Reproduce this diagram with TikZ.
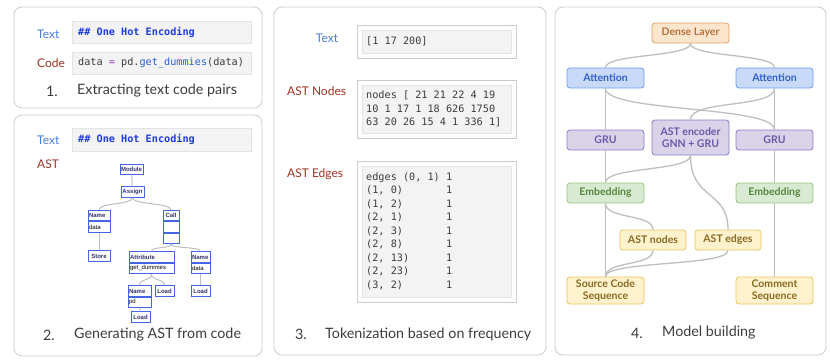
\documentclass[tikz,border=0pt]{standalone}
\usepackage{fontspec}
\setmainfont{Lato}
\setmonofont{DejaVu Sans Mono}
\newfontfamily\treefont{Liberation Sans}
\usepackage{xcolor}
\usetikzlibrary{positioning,fit}
\definecolor{pipe_frame}{RGB}{204,204,204}
\definecolor{pipe_title}{RGB}{60,60,60}
\definecolor{pipe_blue}{RGB}{74,126,222}
\definecolor{pipe_red}{RGB}{160,50,35}
\definecolor{pipe_codebg}{RGB}{243,243,243}
\definecolor{pipe_codeline}{RGB}{228,228,228}
\definecolor{pipe_hash}{RGB}{30,60,220}
\definecolor{pipe_kw}{RGB}{40,95,210}
\definecolor{pipe_op}{RGB}{150,60,180}
\definecolor{pipe_code}{RGB}{60,60,60}
\definecolor{pipe_tree}{RGB}{70,100,230}
\definecolor{pipe_treetxt}{RGB}{50,50,110}
\definecolor{pipe_wire}{RGB}{190,190,190}
\definecolor{dense_fill}{RGB}{252,229,205}
\definecolor{dense_line}{RGB}{222,160,100}
\definecolor{dense_txt}{RGB}{180,115,60}
\definecolor{att_fill}{RGB}{201,218,248}
\definecolor{att_line}{RGB}{109,158,235}
\definecolor{att_txt}{RGB}{50,95,200}
\definecolor{gru_fill}{RGB}{217,210,233}
\definecolor{gru_line}{RGB}{142,124,195}
\definecolor{gru_txt}{RGB}{105,90,170}
\definecolor{emb_fill}{RGB}{217,234,211}
\definecolor{emb_line}{RGB}{147,196,125}
\definecolor{emb_txt}{RGB}{85,135,60}
\definecolor{seq_fill}{RGB}{255,242,204}
\definecolor{seq_line}{RGB}{235,195,90}
\definecolor{seq_txt}{RGB}{135,105,35}
\newcommand{\monofont}[1]{\ttfamily\fontsize{10.2}{#1}\selectfont}
\newcommand{\monospaces}{\spaceskip=0.602em\xspaceskip=0.602em\relax}

\begin{document}
\begin{tikzpicture}[x=1pt, y=-1pt,
          panel/.style={draw=pipe_frame, line width=0.8pt, rounded corners=8pt},
          lbl/.style={anchor=west, inner sep=0pt, font=\fontsize{12}{14}\selectfont},
          numtxt/.style={inner sep=0pt, text=pipe_title, font=\fontsize{14.3}{16}\selectfont},
          ttl/.style={anchor=west, inner sep=0pt, text=pipe_title, font=\fontsize{14.3}{16}\selectfont},
          codebox/.style={fill=pipe_codebg, draw=pipe_codeline, anchor=north west, text width=167pt,
                          inner xsep=6pt, inner ysep=0pt, minimum height=22pt, align=left,
                          text=pipe_code, font=\monofont{12}, execute at begin node=\monospaces},
          tokbox/.style={fill=pipe_codebg, draw=pipe_codeline, anchor=north west, text width=141pt,
                         inner xsep=4pt, inner ysep=3pt, align=left,
                         text=pipe_code, font=\monofont{13.5}, execute at begin node=\monospaces},
          tokframe/.style={draw=pipe_frame, line width=0.8pt, inner sep=5pt},
          tbox/.style={draw=pipe_tree, line width=0.9pt, fill=white, inner xsep=1pt, inner ysep=0pt,
                       minimum height=10.5pt, text=pipe_treetxt, font=\treefont\bfseries\fontsize{6}{7}\selectfont},
          thead/.style={tbox, text width=#1, align=left},
          tval/.style={tbox, text width=#1, align=left, text=black, font=\treefont\fontsize{6}{7}\selectfont},
          twire/.style={draw=pipe_wire, line width=1pt},
          layer/.style={rounded corners=3pt, line width=0.8pt, minimum width=77pt, minimum height=20pt,
                        align=center, inner sep=1pt, font=\bfseries\fontsize{10.5}{12.5}\selectfont},
          dense/.style={layer, fill=dense_fill, draw=dense_line, text=dense_txt},
          att/.style={layer, fill=att_fill, draw=att_line, text=att_txt},
          gru/.style={layer, fill=gru_fill, draw=gru_line, text=gru_txt},
          emb/.style={layer, fill=emb_fill, draw=emb_line, text=emb_txt},
          seq/.style={layer, fill=seq_fill, draw=seq_line, text=seq_txt},
          wire/.style={draw=pipe_wire, line width=1.3pt}]
  \useasboundingbox (0,0) rectangle (830,361);

  % panels
  \draw[panel] (14,7) rectangle (262,108);
  \draw[panel] (14,115) rectangle (262,356);
  \draw[panel] (274,7) rectangle (546,355);
  \draw[panel] (555,7) rectangle (826,355);

  % 1. text code pairs
  \node[lbl, text=pipe_blue] (txtLbl1) at (37,34) {Text};
  \node[lbl, text=pipe_red] (codeLbl1) at (37,63) {Code};
  \node[codebox] (txtBox1) at (72,21) {\textcolor{pipe_hash}{\bfseries\#\# One Hot Encoding}};
  \node[codebox] (codeBox1) at (72,52) {data \textcolor{pipe_op}{=} pd.\textcolor{pipe_kw}{get\_dummies}(data)};
  \node[numtxt] (num1) at (52,91) {1.};
  \node[ttl] (ttl1) at (77,91) {Extracting text code pairs};

  % 2. AST
  \node[lbl, text=pipe_blue] (txtLbl2) at (37,140) {Text};
  \node[lbl, text=pipe_red] (astLbl2) at (37,164) {AST};
  \node[codebox, minimum height=23pt] (txtBox2) at (72,128) {\textcolor{pipe_hash}{\bfseries\#\# One Hot Encoding}};

  \node[tbox, minimum width=23pt] (module) at (131.5,169.5) {Module};
  \node[tbox, minimum width=23pt] (assign) at (132.5,192) {Assign};
  \node[thead=20pt] (nameA) at (99,215.5) {Name};
  \node[tval=20pt, below=0pt of nameA] (nameAv) {data};
  \node[tbox, minimum width=22pt] (store) at (99,256) {Store};
  \node[tbox, minimum width=16pt] (call) at (171,215.5) {Call};
  \node[tbox, minimum width=16pt, below=0pt of call] (callB) {};
  \node[tbox, minimum width=16pt, below=0pt of callB] (callC) {};
  \node[thead=43pt] (attr) at (151.5,257) {Attribute};
  \node[tval=43pt, below=0pt of attr] (attrv) {get\_dummies};
  \node[thead=17pt] (nameB) at (200.5,257) {Name};
  \node[tval=17pt, below=0pt of nameB] (nameBv) {data};
  \node[thead=21pt] (nameC) at (139.5,291) {Name};
  \node[tval=21pt, below=0pt of nameC] (nameCv) {pd};
  \node[tbox, minimum width=19pt] (loadA) at (164.5,291) {Load};
  \node[tbox, minimum width=19pt] (loadB) at (200.5,291) {Load};
  \node[tbox, minimum width=19pt] (loadC) at (140.5,317) {Load};

  \draw[twire] (module) -- (assign);
  \draw[twire] (assign.south) .. controls +(0,7) and +(0,-7) .. (nameA.north);
  \draw[twire] (assign.south) .. controls +(0,7) and +(0,-7) .. (call.north);
  \draw[twire] (nameAv) -- (store);
  \draw[twire] (callC.south) .. controls +(0,5) and +(0,-5) .. (attr.north);
  \draw[twire] (callC.south) .. controls +(0,5) and +(0,-5) .. (nameB.north);
  \draw[twire] (attrv.south) .. controls +(0,7) and +(0,-7) .. (nameC.north);
  \draw[twire] (attrv.south) .. controls +(0,7) and +(0,-7) .. (loadA.north);
  \draw[twire] (nameBv) -- (loadB);
  \draw[twire] (nameCv) -- (loadC);

  \node[numtxt] (num2) at (49,335) {2.};
  \node[ttl] (ttl2) at (74,335) {Generating AST from code};

  % 3. tokenization
  \node[inner sep=0pt, text=pipe_blue, font=\fontsize{12}{14}\selectfont] (txtLbl3) at (327,38) {Text};
  \node[lbl, text=pipe_red] (nodesLbl3) at (287,91) {AST Nodes};
  \node[lbl, text=pipe_red] (edgesLbl3) at (287,174) {AST Edges};

  \node[tokbox, minimum height=23pt] (tokText) at (362,30) {[1 17 200]};
  \node[tokframe, fit=(tokText)] (tokTextF) {};
  \node[tokbox, minimum height=48pt] (tokNodes) at (362,85)
    {nodes [ 21 21 22 4 19\\10 1 17 1 18 626 1750\\63 20 26 15 4 1 336 1]};
  \node[tokframe, fit=(tokNodes)] (tokNodesF) {};
  \node[tokbox, minimum height=131pt] (tokEdges) at (362,166)
    {\begin{tabular}{@{}l@{\hspace{0.602em}}l@{}}
      edges (0, 1) & 1\\
      (1, 0) & 1\\
      (1, 2) & 1\\
      (2, 1) & 1\\
      (2, 3) & 1\\
      (2, 8) & 1\\
      (2, 13) & 1\\
      (2, 23) & 1\\
      (3, 2) & 1
    \end{tabular}};
  \node[tokframe, fit=(tokEdges)] (tokEdgesF) {};

  \node[numtxt] (num3) at (301,334) {3.};
  \node[ttl] (ttl3) at (325,334) {Tokenization based on frequency};

  % 4. model
  \node[dense] (dense) at (690.5,33) {Dense Layer};
  \node[att] (attL) at (605.5,78) {Attention};
  \node[att] (attR) at (774.5,78) {Attention};
  \node[gru] (gruL) at (605.5,140) {GRU};
  \node[gru, minimum height=35pt] (astEnc) at (690.5,137.5) {AST encoder\\[-1pt]GNN + GRU};
  \node[gru] (gruR) at (774.5,140) {GRU};
  \node[emb] (embL) at (605.5,193) {Embedding};
  \node[emb] (embR) at (774.5,193) {Embedding};
  \node[seq, minimum width=66pt] (astNodes) at (653,240) {AST nodes};
  \node[seq, minimum width=66pt] (astEdges) at (728,240) {AST edges};
  \node[seq, minimum height=27pt] (srcSeq) at (605.5,290.5) {Source Code\\[-1pt]Sequence};
  \node[seq, minimum height=27pt] (cmtSeq) at (774.5,290.5) {Comment\\[-1pt]Sequence};

  \draw[wire] (dense.south) .. controls +(0,14) and +(0,-14) .. (attL.north);
  \draw[wire] (dense.south) .. controls +(0,14) and +(0,-14) .. (attR.north);
  \draw[wire] (attL) -- (gruL);
  \draw[wire] (attR) -- (gruR);
  \draw[wire] (attL.south) .. controls +(0,24) and +(0,-24) .. (gruR.north);
  \draw[wire] (attR.south) .. controls +(0,20) and +(0,-20) .. (astEnc.north);
  \draw[wire] (gruL) -- (embL);
  \draw[wire] (gruR) -- (embR);
  \draw[wire] (astEnc.south) .. controls +(0,16) and +(0,-16) .. (embL.north);
  \draw[wire] (astEnc.south) .. controls +(0,45) and +(0,-40) .. (astEdges.north);
  \draw[wire] (embL) -- (srcSeq);
  \draw[wire] (embR) -- (cmtSeq);
  \draw[wire] (embL.south) .. controls +(0,16) and +(0,-16) .. (astNodes.north);
  \draw[wire] (astNodes.south) .. controls +(0,16) and +(0,-16) .. (srcSeq.north);
  \draw[wire] (astEdges.south) .. controls +(0,16) and +(0,-16) .. (srcSeq.north);

  \node[numtxt] (num4) at (637,333) {4.};
  \node[ttl] (ttl4) at (662,333) {Model building};
\end{tikzpicture}
\end{document}
